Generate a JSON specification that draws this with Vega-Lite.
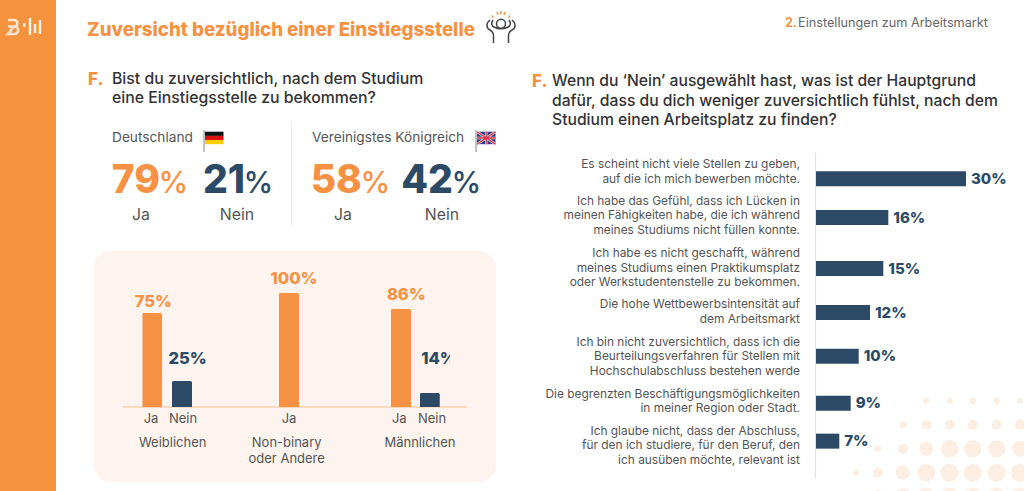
{
"$schema":"https://vega.github.io/schema/vega-lite/v6.json",
"width":1024,"height":491,"padding":0,"autosize":{"type":"none"},"background":"#ffffff",
"config":{"view":{"stroke":null},"text":{"font":"Inter","baseline":"alphabetic"}},
"data":{"values":[{}]},
"datasets":{
"laender":[
{"land":"Deutschland","antwort":"Ja","wert":79,"nr":1},
{"land":"Deutschland","antwort":"Nein","wert":21,"nr":2},
{"land":"Vereinigtes Königreich","antwort":"Ja","wert":58,"nr":3},
{"land":"Vereinigtes Königreich","antwort":"Nein","wert":42,"nr":4}],
"geschlecht":[
{"gruppe":"Weiblichen","antwort":"Ja","wert":75,"label":"75%","nr":1},
{"gruppe":"Weiblichen","antwort":"Nein","wert":25,"label":"25%","nr":2},
{"gruppe":"Non-binary oder Andere","antwort":"Ja","wert":100,"label":"100%","nr":3},
{"gruppe":"Männlichen","antwort":"Ja","wert":86,"label":"86%","nr":4},
{"gruppe":"Männlichen","antwort":"Nein","wert":14,"label":"14%","nr":5}],
"gruppen":[
{"name":"Weiblichen","nr":1},
{"name":"Non-binary\noder Andere","nr":2},
{"name":"Männlichen","nr":3}],
"gruende":[
{"rang":1,"wert":30,"label":"30%","grund":"Es scheint nicht viele Stellen zu geben,\nauf die ich mich bewerben möchte."},
{"rang":2,"wert":16,"label":"16%","grund":"Ich habe das Gefühl, dass ich Lücken in\nmeinen Fähigkeiten habe, die ich während\nmeines Studiums nicht füllen konnte."},
{"rang":3,"wert":15,"label":"15%","grund":"Ich habe es nicht geschafft, während\nmeines Studiums einen Praktikumsplatz\noder Werkstudentenstelle zu bekommen."},
{"rang":4,"wert":12,"label":"12%","grund":"Die hohe Wettbewerbsintensität auf\ndem Arbeitsmarkt"},
{"rang":5,"wert":10,"label":"10%","grund":"Ich bin nicht zuversichtlich, dass ich die\nBeurteilungsverfahren für Stellen mit\nHochschulabschluss bestehen werde"},
{"rang":6,"wert":9,"label":"9%","grund":"Die begrenzten Beschäftigungsmöglichkeiten\nin meiner Region oder Stadt."},
{"rang":7,"wert":7,"label":"7%","grund":"Ich glaube nicht, dass der Abschluss,\nfür den ich studiere, für den Beruf, den\nich ausüben möchte, relevant ist"}]
},
"resolve":{"scale":{"x":"independent","y":"independent"}},
"layer":[
{"mark":{"type":"rect","color":"#f5923e"},"encoding":{"x":{"value":0},"x2":{"value":56},"y":{"value":0},"y2":{"value":491}}},
{"mark":{"type":"point","filled":true,"opacity":1,"size":4,"color":"#fdeee3","shape":"M926.3 400.7m-3 0a3 3 0 1 0 6 0a3 3 0 1 0 -6 0M949.7 400.7m-3 0a3 3 0 1 0 6 0a3 3 0 1 0 -6 0M972.7 400.7m-3.5 0a3.5 3.5 0 1 0 7 0a3.5 3.5 0 1 0 -7 0M996.7 400.7m-3.5 0a3.5 3.5 0 1 0 7 0a3.5 3.5 0 1 0 -7 0M1020 400.7m-3 0a3 3 0 1 0 6 0a3 3 0 1 0 -6 0M903 424.7m-3.5 0a3.5 3.5 0 1 0 7 0a3.5 3.5 0 1 0 -7 0M926.3 424.7m-5 0a5 5 0 1 0 10 0a5 5 0 1 0 -10 0M949.7 424.7m-5 0a5 5 0 1 0 10 0a5 5 0 1 0 -10 0M972.7 424.7m-5 0a5 5 0 1 0 10 0a5 5 0 1 0 -10 0M996.7 424.7m-5 0a5 5 0 1 0 10 0a5 5 0 1 0 -10 0M1020 424.7m-5 0a5 5 0 1 0 10 0a5 5 0 1 0 -10 0M877.7 448.7m-3.5 0a3.5 3.5 0 1 0 7 0a3.5 3.5 0 1 0 -7 0M903 448.7m-5 0a5 5 0 1 0 10 0a5 5 0 1 0 -10 0M926.3 448.7m-7 0a7 7 0 1 0 14 0a7 7 0 1 0 -14 0M949.7 448.7m-8.7 0a8.7 8.7 0 1 0 17.4 0a8.7 8.7 0 1 0 -17.4 0M972.7 448.7m-8.5 0a8.5 8.5 0 1 0 17 0a8.5 8.5 0 1 0 -17 0M996.7 448.7m-8.5 0a8.5 8.5 0 1 0 17 0a8.5 8.5 0 1 0 -17 0M1020 448.7m-8 0a8 8 0 1 0 16 0a8 8 0 1 0 -16 0M856 472.7m-3 0a3 3 0 1 0 6 0a3 3 0 1 0 -6 0M877.7 472.7m-5 0a5 5 0 1 0 10 0a5 5 0 1 0 -10 0M903 472.7m-7 0a7 7 0 1 0 14 0a7 7 0 1 0 -14 0M926.3 472.7m-8.7 0a8.7 8.7 0 1 0 17.4 0a8.7 8.7 0 1 0 -17.4 0M949.7 472.7m-9 0a9 9 0 1 0 18 0a9 9 0 1 0 -18 0M972.7 472.7m-9 0a9 9 0 1 0 18 0a9 9 0 1 0 -18 0M996.7 472.7m-9 0a9 9 0 1 0 18 0a9 9 0 1 0 -18 0M1020 472.7m-9 0a9 9 0 1 0 18 0a9 9 0 1 0 -18 0M877.7 496.7m-6.7 0a6.7 6.7 0 1 0 13.4 0a6.7 6.7 0 1 0 -13.4 0M903 496.7m-8.4 0a8.4 8.4 0 1 0 16.8 0a8.4 8.4 0 1 0 -16.8 0M926.3 496.7m-8.7 0a8.7 8.7 0 1 0 17.4 0a8.7 8.7 0 1 0 -17.4 0M949.7 496.7m-9 0a9 9 0 1 0 18 0a9 9 0 1 0 -18 0M972.7 496.7m-9 0a9 9 0 1 0 18 0a9 9 0 1 0 -18 0M996.7 496.7m-9 0a9 9 0 1 0 18 0a9 9 0 1 0 -18 0M1020 496.7m-9 0a9 9 0 1 0 18 0a9 9 0 1 0 -18 0"},"encoding":{"x":{"value":0},"y":{"value":0}}},
{"mark":{"type":"rect","color":"#fdf4ef","cornerRadius":17},"encoding":{"x":{"value":94},"x2":{"value":496},"y":{"value":251},"y2":{"value":482}}},
{"mark":{"type":"point","filled":false,"opacity":1,"size":4,"stroke":"#fde3cc","strokeWidth":2.6,"shape":"M8 20H14C18.5 20 18.5 26.5 14 26.5H8M14 26.5C19.5 26.5 19.5 34 14 34H8Z"},"encoding":{"x":{"value":0},"y":{"value":0}}},
{"mark":{"type":"point","filled":false,"opacity":1,"size":4,"stroke":"#fff1e5","strokeWidth":2.4,"shape":"M24.3 23V27M30 18V35M35 24V33M40 20V34"},"encoding":{"x":{"value":0},"y":{"value":0}}},
{"mark":{"type":"text","align":"left","fontSize":18.7,"fontWeight":800,"color":"#f79245"},"encoding":{"x":{"value":87},"y":{"value":36},"text":{"value":"Zuversicht bezüglich einer Einstiegsstelle"}}},
{"mark":{"type":"point","filled":false,"opacity":1,"size":4,"stroke":"#444444","strokeWidth":1.5,"shape":"M490 20C486 23 486 28 490 30C492 31 493.5 33 493.5 36V43M493 20C491 23 491 26 495 27.5C498 29 504 29 507 27.5C511 26 511 23 509 20M512 20C516 23 516 28 512 30C510 31 508.5 33 508.5 36V43M505.5 23.7a4.5 4.5 0 1 0 -9 0a4.5 4.5 0 1 0 9 0"},"encoding":{"x":{"value":0},"y":{"value":0}}},
{"mark":{"type":"point","filled":false,"opacity":1,"size":4,"stroke":"#f79245","strokeWidth":1.4,"shape":"M492 15.5L493.5 18M497 12L498 15M501 11V14.5M505 12L504 15M510 15.5L508.5 18"},"encoding":{"x":{"value":0},"y":{"value":0}}},
{"mark":{"type":"text","align":"left","fontSize":12.5,"fontWeight":700,"color":"#f79245"},"encoding":{"x":{"value":785},"y":{"value":27},"text":{"value":"2."}}},
{"mark":{"type":"text","align":"left","fontSize":12.7,"color":"#666666"},"encoding":{"x":{"value":798},"y":{"value":27},"text":{"value":"Einstellungen zum Arbeitsmarkt"}}},
{"mark":{"type":"text","align":"left","fontSize":17,"fontWeight":800,"color":"#f79245"},"encoding":{"x":{"value":88},"y":{"value":85},"text":{"value":"F."}}},
{"mark":{"type":"text","align":"left","fontSize":15.8,"fontWeight":500,"color":"#333333","lineBreak":"\n","lineHeight":18.5},"encoding":{"x":{"value":112},"y":{"value":84},"text":{"value":"Bist du zuversichtlich, nach dem Studium\neine Einstiegsstelle zu bekommen?"}}},
{"mark":{"type":"text","align":"left","fontSize":17,"fontWeight":800,"color":"#f79245"},"encoding":{"x":{"value":532},"y":{"value":87},"text":{"value":"F."}}},
{"mark":{"type":"text","align":"left","fontSize":15.7,"fontWeight":500,"color":"#333333","lineBreak":"\n","lineHeight":19.5},"encoding":{"x":{"value":552},"y":{"value":86},"text":{"value":"Wenn du ‘Nein’ ausgewählt hast, was ist der Hauptgrund\ndafür, dass du dich weniger zuversichtlich fühlst, nach dem\nStudium einen Arbeitsplatz zu finden?"}}},
{"mark":{"type":"text","align":"left","fontSize":13.7,"color":"#555555"},"encoding":{"x":{"value":112},"y":{"value":142},"text":{"value":"Deutschland"}}},
{"mark":{"type":"text","align":"left","fontSize":13.7,"color":"#555555"},"encoding":{"x":{"value":312},"y":{"value":142},"text":{"value":"Vereinigstes Königreich"}}},
{"mark":{"type":"rule","color":"#fde3d0","strokeWidth":1},"encoding":{"x":{"value":291.5},"y":{"value":122},"y2":{"value":225}}},
{"mark":{"type":"rule","color":"#999999","strokeWidth":1.2},"encoding":{"x":{"value":204},"y":{"value":130},"y2":{"value":152}}},
{"mark":{"type":"rule","color":"#999999","strokeWidth":1.2},"encoding":{"x":{"value":476},"y":{"value":130},"y2":{"value":152}}},
{"mark":{"type":"rect","color":"#111111"},"encoding":{"x":{"value":205},"x2":{"value":223.5},"y":{"value":131.7},"y2":{"value":135.9}}},
{"mark":{"type":"rect","color":"#dd1111"},"encoding":{"x":{"value":205},"x2":{"value":223.5},"y":{"value":135.9},"y2":{"value":140}}},
{"mark":{"type":"rect","color":"#ffce00"},"encoding":{"x":{"value":205},"x2":{"value":223.5},"y":{"value":140},"y2":{"value":144.2}}},
{"mark":{"type":"rect","color":"#33407f"},"encoding":{"x":{"value":477},"x2":{"value":495.5},"y":{"value":131.7},"y2":{"value":144.2}}},
{"mark":{"type":"point","filled":false,"opacity":1,"size":4,"stroke":"#f3e6ea","strokeWidth":2.4,"shape":"M477 131.7L495.5 144.2M477 144.2L495.5 131.7M486.2 131.7V144.2M477 138H495.5"},"encoding":{"x":{"value":0},"y":{"value":0}}},
{"mark":{"type":"point","filled":false,"opacity":1,"size":4,"stroke":"#d5334f","strokeWidth":1.3,"shape":"M477 131.7L495.5 144.2M477 144.2L495.5 131.7M486.2 131.7V144.2M477 138H495.5"},"encoding":{"x":{"value":0},"y":{"value":0}}},
{"data":{"name":"laender"},"mark":{"type":"text","align":"right","fontSize":39,"fontWeight":800},
 "encoding":{"x":{"field":"nr","type":"quantitative","axis":null,"scale":{"domain":[1,2,3,4],"range":[160,245,362,453],"zero":false,"nice":false}},"y":{"value":193},"text":{"field":"wert","type":"quantitative"},"color":{"field":"antwort","type":"nominal","legend":null,"scale":{"domain":["Ja","Nein"],"range":["#f79245","#2c4a66"]}}}},
{"data":{"name":"laender"},"mark":{"type":"text","align":"left","fontSize":30,"fontWeight":500,"dx":-1.5},
 "encoding":{"x":{"field":"nr","type":"quantitative","axis":null,"scale":{"domain":[1,2,3,4],"range":[160,245,362,453],"zero":false,"nice":false}},"y":{"value":193},"text":{"value":"%"},"color":{"field":"antwort","type":"nominal","legend":null,"scale":{"domain":["Ja","Nein"],"range":["#f79245","#2c4a66"]}}}},
{"data":{"name":"laender"},"mark":{"type":"text","align":"center","fontSize":15.8,"color":"#555555"},
 "encoding":{"x":{"field":"nr","type":"quantitative","axis":null,"scale":{"domain":[1,2,3,4],"range":[141,237,343,442],"zero":false,"nice":false}},"y":{"value":219.5},"text":{"field":"antwort","type":"nominal"}}},
{"mark":{"type":"rule","color":"#fbc08f","strokeWidth":1.2},"encoding":{"x":{"value":123},"x2":{"value":467.5},"y":{"value":407}}},
{"data":{"name":"geschlecht"},"mark":{"type":"bar","orient":"vertical","width":20,"cornerRadiusTopLeft":1.5,"cornerRadiusTopRight":1.5},
 "encoding":{"x":{"field":"nr","type":"quantitative","axis":null,"scale":{"domain":[1,2,3,4,5],"range":[150,182,289,401,432],"zero":false,"nice":false}},"y":{"field":"wert","type":"quantitative","axis":null,"scale":{"domain":[0,14,25,75,86,100],"range":[407,393,381,313,309,293],"zero":false,"nice":false}},"color":{"field":"antwort","type":"nominal","legend":null,"scale":{"domain":["Ja","Nein"],"range":["#f79245","#2c4a66"]}}}},
{"data":{"name":"geschlecht"},"mark":{"type":"text","align":"center","fontSize":16.5,"fontWeight":800},
 "encoding":{"x":{"field":"nr","type":"quantitative","axis":null,"scale":{"domain":[1,2,3,4,5],"range":[153.3,187.7,294,406.3,439],"zero":false,"nice":false}},"y":{"field":"wert","type":"quantitative","axis":null,"scale":{"domain":[14,25,75,86,100],"range":[364,364,306.7,300,283.7],"zero":false,"nice":false}},"text":{"field":"label","type":"nominal"},"color":{"field":"antwort","type":"nominal","legend":null,"scale":{"domain":["Ja","Nein"],"range":["#f79245","#2c4a66"]}}}},
{"mark":{"type":"rect","color":"#fdf4ef"},"encoding":{"x":{"value":450},"x2":{"value":462},"y":{"value":348},"y2":{"value":368}}},
{"data":{"name":"geschlecht"},"mark":{"type":"text","align":"center","fontSize":13,"color":"#555555"},
 "encoding":{"x":{"field":"nr","type":"quantitative","axis":null,"scale":{"domain":[1,2,3,4,5],"range":[151,183,289,399.3,432],"zero":false,"nice":false}},"y":{"value":423},"text":{"field":"antwort","type":"nominal"}}},
{"data":{"name":"gruppen"},"mark":{"type":"text","align":"center","fontSize":13,"color":"#555555","lineBreak":"\n","lineHeight":16.5},
 "encoding":{"x":{"field":"nr","type":"quantitative","axis":null,"scale":{"domain":[1,2,3],"range":[172.7,286.7,420],"zero":false,"nice":false}},"y":{"value":446.5},"text":{"field":"name","type":"nominal"}}},
{"mark":{"type":"rule","color":"#dfe3e8","strokeWidth":1.2},"encoding":{"x":{"value":815.5},"y":{"value":153},"y2":{"value":478}}},
{"data":{"name":"gruende"},"mark":{"type":"text","align":"right","fontSize":11.9,"color":"#555555","lineBreak":"\n","lineHeight":14.4},
 "encoding":{"x":{"value":800},"y":{"field":"rang","type":"quantitative","axis":null,"scale":{"domain":[1,2,3,4,5,6,7],"range":[168.3,205,257.3,308.3,346,397.7,435],"zero":false,"nice":false}},"text":{"field":"grund","type":"nominal"}}},
{"data":{"name":"gruende"},"layer":[
 {"mark":{"type":"bar","orient":"horizontal","height":15,"color":"#2c4a66"}},
 {"mark":{"type":"text","align":"left","baseline":"middle","dx":5,"fontSize":15,"fontWeight":800,"color":"#2c4a66"},"encoding":{"text":{"field":"label","type":"nominal"}}}],
 "encoding":{"x":{"field":"wert","type":"quantitative","axis":null,"scale":{"domain":[0,7,9,10,12,15,16,30],"range":[816,839.3,850.7,858.7,870,883.3,888.3,966],"zero":false,"nice":false}},"y":{"field":"rang","type":"quantitative","axis":null,"scale":{"domain":[1,2,3,4,5,6,7],"range":[174.3,217.5,268.6,312.5,356.2,403.3,445.5],"zero":false,"nice":false}}}}
]
}
